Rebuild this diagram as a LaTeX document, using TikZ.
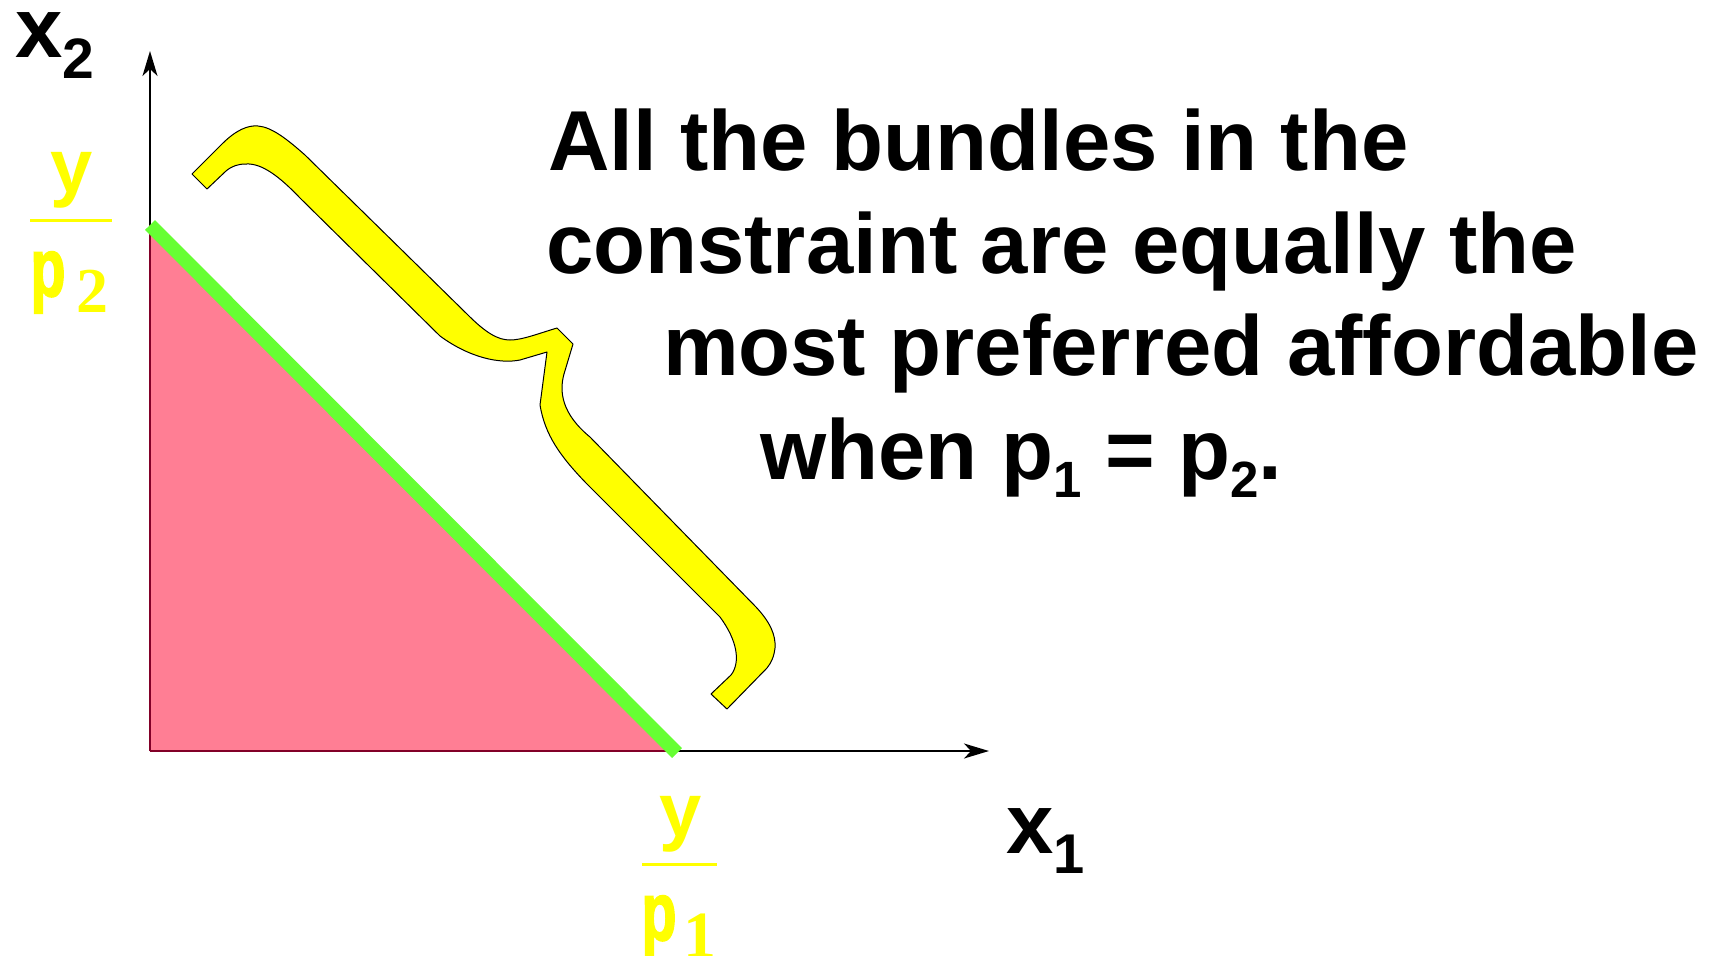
\documentclass[tikz,border=0pt]{standalone}
\usepackage{fontspec}
\setmainfont{Liberation Sans}
\newfontfamily\serifnum{Liberation Serif}
\newfontfamily\heavyp{Liberation Sans}[UprightFont={* Bold}, FakeBold=2.5]
\usetikzlibrary{arrows.meta}
\definecolor{pinkfill}{RGB}{255,126,148}
\definecolor{greenline}{RGB}{102,255,51}
\definecolor{braceyellow}{RGB}{255,255,0}
\definecolor{darkred}{RGB}{130,0,40}
\begin{document}
\begin{tikzpicture}[x=1pt,y=-1pt,
  lbl/.style={inner sep=0pt, outer sep=0pt},
  big/.style={lbl, anchor=base west, font=\bfseries\fontsize{85.1}{100}\selectfont},
  ylbl/.style={lbl, anchor=base, text=braceyellow},
  axisline/.style={line width=2pt, -{Stealth[length=25pt,width=15pt,inset=7pt]}},
  fracbar/.style={braceyellow, line width=3pt},
]
\useasboundingbox (0,0) rectangle (1722,956);
% key points
\coordinate (O) at (150,751);
\coordinate (ytip) at (150,51);
\coordinate (xtip) at (989,751);
\coordinate (A) at (150,225);
\coordinate (B) at (677,753);
\coordinate (Bb) at (676,751);
% budget set
\fill[pinkfill] (O) -- (A) -- (Bb) -- cycle;
\draw[axisline] (O) -- (ytip);
\draw[axisline] (O) -- (xtip);
\draw[darkred, line width=2pt] (O) -- (Bb);
\draw[darkred, line width=1.5pt] (O) -- (A);
% budget line
\draw[greenline, line width=14pt] (A) -- (B);
% brace
\filldraw[fill=braceyellow, draw=black, line width=1pt, line join=round]
 (192,174) -- (222,144) .. controls (236,130) and (248,125) .. (258,126)
 .. controls (272,127) and (288,140) .. (305,155) -- (468,315)
 .. controls (486,333) and (498,340) .. (510,340)
 .. controls (522,340) and (537,334) .. (557,328) -- (573,344) -- (564,374)
 .. controls (559,392) and (562,414) .. (590,437) -- (756,607)
 .. controls (770,622) and (776,635) .. (775,648)
 .. controls (774,657) and (771,663) .. (767,668) -- (727,709) -- (711,694)
 -- (731,675) .. controls (741,662) and (737,640) .. (720,617) -- (586,483)
 .. controls (560,456) and (545,435) .. (540,405) -- (547,352) -- (520,360)
 .. controls (500,364) and (470,358) .. (440,336) -- (300,198)
 .. controls (280,177) and (262,163) .. (246,164)
 .. controls (238,164) and (232,166) .. (226,171) -- (207,189) -- cycle;
% axis labels
\node[big] (x2) at (15,57) {x\raisebox{-21pt}{\fontsize{57}{57}\selectfont 2}};
\node[big] (x1) at (1006,853) {x\raisebox{-20pt}{\fontsize{56}{56}\selectfont 1}};
% fractions
\node[ylbl, font=\bfseries\fontsize{76}{76}\selectfont] (ya) at (72,192.5) {y};
\coordinate (bara1) at (30,220);
\coordinate (bara2) at (112,220);
\draw[fracbar] (bara1) -- (bara2);
\node[ylbl, font=\heavyp\fontsize{82}{82}\selectfont] (pa) at (48,296) {\scalebox{0.7}[1]{p}};
\node[ylbl, font=\serifnum\bfseries\fontsize{64}{64}\selectfont] (sa) at (92.5,312) {2};
\node[ylbl, font=\bfseries\fontsize{76}{76}\selectfont] (yb) at (680.5,836.5) {y};
\coordinate (barb1) at (642,864);
\coordinate (barb2) at (717,864);
\draw[fracbar] (barb1) -- (barb2);
\node[ylbl, font=\heavyp\fontsize{82}{82}\selectfont] (pb) at (659,940) {\scalebox{0.7}[1]{p}};
\node[ylbl, font=\serifnum\bfseries\fontsize{66}{66}\selectfont] (sb) at (699.5,957) {1};
% text
\node[big] (l1) at (548,170) {All the bundles in the};
\node[big] (l2) at (546,273) {constraint are equally the};
\node[big] (l3) at (663,375) {most preferred affordable};
\node[big] (l4) at (760,479) {when p\raisebox{-18pt}{\fontsize{51}{51}\selectfont 1} = p\raisebox{-18pt}{\fontsize{51}{51}\selectfont 2}.};
\end{tikzpicture}
\end{document}
